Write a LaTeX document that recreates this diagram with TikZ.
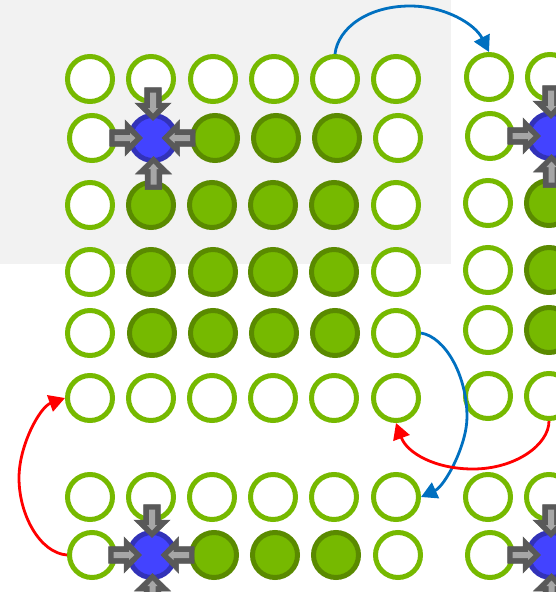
\documentclass[tikz,border=0pt]{standalone}
\usetikzlibrary{arrows.meta}
\definecolor{ring}{HTML}{76B900}
\definecolor{ringdark}{HTML}{5A8A00}
\definecolor{coreblue}{HTML}{4343FF}
\definecolor{coreedge}{HTML}{3232B8}
\definecolor{panel}{HTML}{F2F2F2}
\definecolor{flowblue}{HTML}{0070C0}
\definecolor{flowred}{HTML}{FF0000}
\definecolor{pdark}{HTML}{595959}
\definecolor{plight}{HTML}{A6A6A6}
\tikzset{
  x=1pt,y=-1pt,
  cell/.style={circle,draw,line width=5pt,minimum size=45pt,inner sep=0pt},
  free/.style={cell,draw=ring,fill=white},
  used/.style={cell,draw=ringdark,fill=ring},
  core/.style={cell,draw=coreedge,fill=coreblue},
  hop/.style={line width=2.8pt,-{Triangle[length=16pt,width=17pt]}},
  hopblue/.style={hop,draw=flowblue,color=flowblue},
  hopred/.style={hop,draw=flowred,color=flowred},
}
% pointer: tip at the given point, rotated on the canvas
\newcommand{\pointer}[2]{%
  \begin{scope}[shift={(#1)},rotate=#2]
    \fill[pdark,draw=pdark,line width=0.5pt,line join=miter]
      (0,0) -- (-17.5,18) -- (-17.5,8.3) -- (-33,8.3) -- (-33,-8.3) -- (-17.5,-8.3) -- (-17.5,-18) -- cycle;
    \fill[plight]
      (-7,0) -- (-12.5,5) -- (-12.5,3) -- (-28,3) -- (-28,-3) -- (-12.5,-3) -- (-12.5,-5) -- cycle;
  \end{scope}}
\begin{document}
\begin{tikzpicture}
\useasboundingbox (0,0) rectangle (556,592);
\fill[panel] (0,0) rectangle (451,264);
\foreach \nm/\px/\py in {
 a1/90/79,a2/151/79,a3/213/79,a4/274/79,a5/335/79,a6/396/79,
 b1/92/138,b6/398/138,
 c1/90/205,c6/396/205,
 d1/90/272,d6/396/272,
 e1/90/333,e6/396/333,
 f1/90/398,f2/151/398,f3/212/398,f4/273/398,f5/334/398,f6/396/398,
 g1/90/497,g2/151/497,g3/212/497,g4/273/497,g5/334/497,g6/396/497,
 h1/92/555,h6/398/555,
 p1/489/77,q1/490/136,r1/488/203,s1/488/270,t1/488/330,u1/488/396,v1/488/497,w1/490/555,
 p2/550/77,u2/549/396,v2/549/497}
 {\node[free] (\nm) at (\px,\py) {};}
\foreach \nm/\px/\py in {
 b3/215/138,b4/276/138,b5/337/138,
 c2/151/205,c3/212/205,c4/273/205,c5/334/205,
 d2/151/272,d3/213/272,d4/273/272,d5/334/272,
 e2/152/333,e3/213/333,e4/274/333,e5/335/333,
 h3/214/555,h4/275/555,h5/336/555,
 r2/549/203,s2/549/270,t2/549/330}
 {\node[used] (\nm) at (\px,\py) {};}
\foreach \nm/\px/\py in {b2/153/138,h2/152/555,q2/551/136,w2/551/555}
 {\node[core] (\nm) at (\px,\py) {};}
% pointers
\foreach \cx/\cy in {153/138,152/555,551/136,551/555}{
  \pointer{\cx,\cy-17.5}{-90}
  \pointer{\cx+0.5,\cy+18.5}{90}
  \pointer{\cx-10.5,\cy}{0}
  \pointer{\cx+9,\cy}{180}
}
% connectors
\draw[hopblue] (a5.north) .. controls (338,28) and (368,6) .. (410,6)
  .. controls (445,6) and (475,24) .. (p1.north);
\draw[hopblue] (e6.east) .. controls (445,337) and (467,375) .. (467,417)
  .. controls (467,445) and (445,486) .. (g6.east);
\draw[hopred] (u2.south) .. controls (549,445) and (515,469) .. (473,469)
  .. controls (435,469) and (407,453) .. (f6.south);
\draw[hopred] (h1.west) .. controls (40,553) and (19,515) .. (19,478)
  .. controls (19,445) and (40,407) .. (f1.west);
\end{tikzpicture}
\end{document}
